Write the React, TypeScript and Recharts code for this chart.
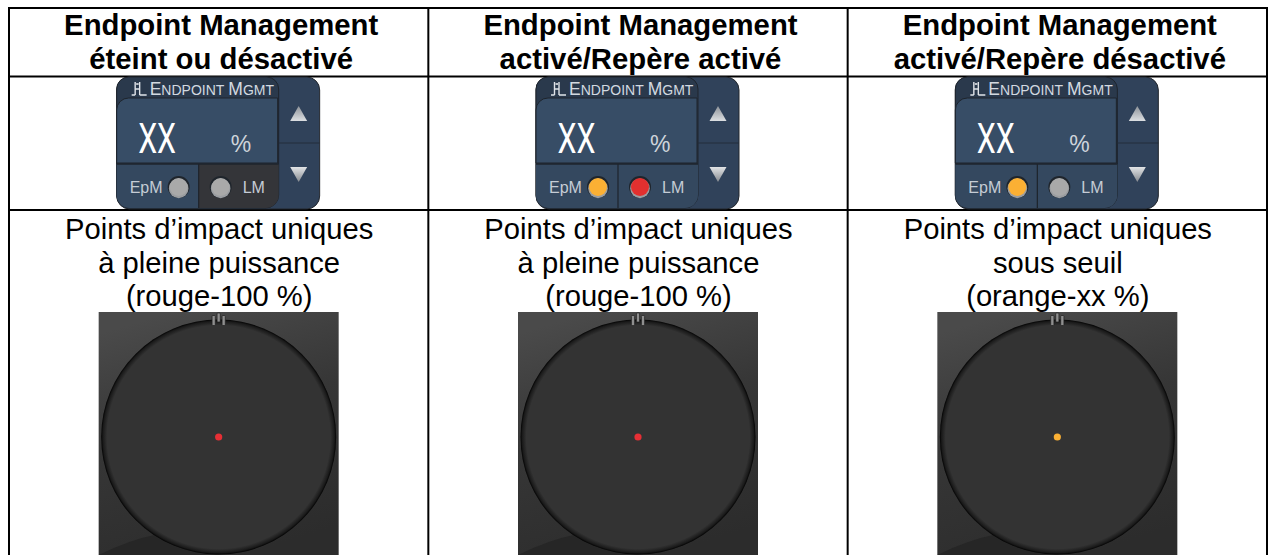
import React from "react";
import { ComposedChart, Scatter, XAxis, YAxis, ReferenceLine } from "recharts";

const headerTop = ["Endpoint Management", "Endpoint Management", "Endpoint Management"];
const headerBottom = ["éteint ou désactivé", "activé/Repère activé", "activé/Repère désactivé"];
const impactFirst = ["Points d’impact uniques", "Points d’impact uniques", "Points d’impact uniques"];
const impactSecond = ["à pleine puissance", "à pleine puissance", "sous seuil"];
const impactThird = ["(rouge-100 %)", "(rouge-100 %)", "(orange-xx %)"];
const epmLamp = ["#a9a9a9", "#fbb034", "#fbb034"];
const lmLamp = ["#a9a9a9", "#e2302f", "#a9a9a9"];
const lmPanel = ["#343539", "#34485f", "#34485f"];
const spotColor = ["#e62f35", "#e62f35", "#fbb034"];
const columns = [0, 1, 2];

const rows = columns.map((col) => ({
  col,
  top: headerTop[col],
  bottom: headerBottom[col],
  l1: impactFirst[col],
  l2: impactSecond[col],
  l3: impactThird[col],
  epm: epmLamp[col],
  lm: lmLamp[col],
  lmBg: lmPanel[col],
  spot: spotColor[col],
}));

const FONT = "'Liberation Sans', Arial, sans-serif";

const at = (y: number) => rows.map((r) => ({ ...r, y }));

const Label = (text: (r: any) => string, bold: boolean) => (p: any) => (
  <text
    x={p.cx + (bold ? 2.5 : 0.5)}
    y={p.cy}
    textAnchor="middle"
    fontFamily={FONT}
    fontSize={bold ? 29.3 : 29.2}
    fontWeight={bold ? 700 : 400}
    fill="#000"
  >
    {text(p.payload)}
  </text>
);

const Lamp = ({ x, y, fill }: any) => (
  <g>
    <circle cx={x} cy={y} r={11} fill="#1f252c" />
    <circle cx={x} cy={y + 1.4} r={9.8} fill="#9a9da1" />
    <circle cx={x} cy={y} r={9} fill={fill} />
  </g>
);

const Panel = (p: any) => {
  const { cx, cy, payload } = p;
  const L = cx - 102;
  const T = cy;
  return (
    <g>
      <rect x={L} y={T} width={203} height={132} rx={13} fill="#30425a" stroke="#23272d" strokeWidth={1} />
      <path
        d={`M${L} ${T + 12} a12 12 0 0 1 12 -12 H${L + 150} a12 12 0 0 1 12 12 V${T + 118} a13 13 0 0 1 -13 13 H${L + 13} a13 13 0 0 1 -13 -13 Z`}
        fill="#2a394c"
        stroke="#1e242c"
        strokeWidth={1}
      />
      <path
        d={`M${L} ${T + 33} a12 12 0 0 1 12 -12 H${L + 161} V${T + 86} H${L} Z`}
        fill="#374d66"
        stroke="#1e242c"
        strokeWidth={1}
      />
      <path
        d={`M${L} ${T + 87} H${L + 82} V${T + 131} H${L + 13} a13 13 0 0 1 -13 -13 Z`}
        fill="#34485f"
      />
      <path
        d={`M${L + 82} ${T + 87} H${L + 162} V${T + 118} a13 13 0 0 1 -13 13 H${L + 82} Z`}
        fill={payload.lmBg}
      />
      <line x1={L} x2={L + 162} y1={T + 87} y2={T + 87} stroke="#1e242c" strokeWidth={1.4} />
      <line x1={L + 82} x2={L + 82} y1={T + 87} y2={T + 131} stroke="#1e242c" strokeWidth={1.2} />
      <line x1={L + 162} x2={L + 203} y1={T + 66} y2={T + 66} stroke="#232d3a" strokeWidth={1.2} />
      <path d={`M${L + 182} ${T + 29} l8.5 15 h-17 Z`} fill="url(#triUp)" />
      <path d={`M${L + 182} ${T + 105} l8.5 -15 h-17 Z`} fill="url(#triDown)" />
      <g stroke="#dfe3e8" strokeWidth={1.4} fill="none">
        <path d={`M${L + 15} ${T + 18} h3.5 M${L + 18.5} ${T + 5} v13 M${L + 23} ${T + 5} v13 M${L + 18.5} ${T + 12} h4.5 M${L + 23} ${T + 18} h7`} />
        <path d={`M${L + 19.5} ${T + 7} h2.5`} stroke="#fff" />
      </g>
      <text x={L + 33} y={T + 18} fontFamily={FONT} fontSize={17.5} fill="#d3d9e0">
        E<tspan fontSize={14}>NDPOINT</tspan>
        <tspan dx={4}>M</tspan>
        <tspan fontSize={14}>GMT</tspan>
      </text>
      <text
        transform={`translate(${L + 21.5} ${T + 75.5}) scale(0.72 1)`}
        fontFamily="Roboto"
        fontWeight={400}
        fontSize={42}
        fill="#fff"
      >
        XX
      </text>
      <text x={L + 114} y={T + 75} fontFamily={FONT} fontSize={23} fill="#ced4db">
        %
      </text>
      <text x={L + 13} y={T + 116} fontFamily={FONT} fontSize={16} fill="#c5ccd5">
        EpM
      </text>
      <text x={L + 126} y={T + 116} fontFamily={FONT} fontSize={16} fill="#c5ccd5">
        LM
      </text>
      <Lamp x={L + 62} y={T + 110} fill={payload.epm} />
      <Lamp x={L + 104} y={T + 110} fill={payload.lm} />
    </g>
  );
};

const Scope = (p: any) => {
  const { cx, cy } = p;
  const R = 117.5;
  const top = cy - 125;
  const left = cx - 120;
  return (
    <g>
      <rect x={left} y={top} width={240} height={243} fill="url(#scopeBg)" />
      <path
        d={`M${left} ${top + 243} Q${left + 30} ${top + 228} ${left + 60} ${top + 222} L${cx} ${top + 243} Z`}
        fill="#262626"
      />
      <circle cx={cx} cy={cy} r={R} fill="url(#scopeFace)" />
      {[-5, 0, 5].map((dx) => (
        <rect
          key={dx}
          x={cx + dx - 1.6}
          y={dx === 0 ? top + 1 : top + 3.5}
          width={3.2}
          height={dx === 0 ? 9 : 10}
          fill="#8f8f8f"
          stroke="#1d1d1d"
          strokeWidth={0.7}
          rx={0.8}
        />
      ))}
      <circle cx={cx} cy={cy} r={3.6} fill={p.payload.spot} />
    </g>
  );
};

export default function App() {
  return (
    <div style={{ position: "absolute", left: 0, top: 0, width: 1269, height: 555, background: "#fff", overflow: "hidden" }}>
      <ComposedChart width={1269} height={555} margin={{ left: 9, right: 2, top: 0, bottom: 0 }} data={rows}>
        <defs>
          <linearGradient id="triUp" x1="0" y1="0" x2="0" y2="1">
            <stop offset="0" stopColor="#8d9298" />
            <stop offset="1" stopColor="#dcdfe2" />
          </linearGradient>
          <linearGradient id="triDown" x1="0" y1="0" x2="0" y2="1">
            <stop offset="0" stopColor="#e2e4e6" />
            <stop offset="1" stopColor="#84898f" />
          </linearGradient>
          <linearGradient id="scopeBg" x1="0.3" y1="0" x2="0.6" y2="1">
            <stop offset="0" stopColor="#4a4a4a" />
            <stop offset="0.45" stopColor="#363636" />
            <stop offset="1" stopColor="#2c2c2c" />
          </linearGradient>
          <radialGradient id="scopeFace">
            <stop offset="0" stopColor="#333333" />
            <stop offset="0.95" stopColor="#333333" />
            <stop offset="0.985" stopColor="#1a1a1a" />
            <stop offset="1" stopColor="#020202" />
          </radialGradient>
        </defs>
        <XAxis type="number" dataKey="col" domain={[-0.5, 2.5]} hide />
        <YAxis type="number" dataKey="y" domain={[0, 555]} reversed hide width={0} />
        {[-0.5, 0.5, 1.5, 2.5].map((x) => (
          <ReferenceLine
            key={x}
            segment={[
              { x, y: 7 },
              { x, y: 555 },
            ]}
            stroke="#000"
            strokeWidth={2}
            ifOverflow="visible"
          />
        ))}
        {[8, 76.5, 210].map((y) => (
          <ReferenceLine
            key={y}
            segment={[
              { x: -0.5, y },
              { x: 2.5, y },
            ]}
            stroke="#000"
            strokeWidth={2}
            ifOverflow="visible"
          />
        ))}
        <Scatter data={at(34.5)} dataKey="y" shape={Label((r) => r.top, true)} isAnimationActive={false} />
        <Scatter data={at(68.5)} dataKey="y" shape={Label((r) => r.bottom, true)} isAnimationActive={false} />
        <Scatter data={at(239)} dataKey="y" shape={Label((r) => r.l1, false)} isAnimationActive={false} />
        <Scatter data={at(272.5)} dataKey="y" shape={Label((r) => r.l2, false)} isAnimationActive={false} />
        <Scatter data={at(306)} dataKey="y" shape={Label((r) => r.l3, false)} isAnimationActive={false} />
        <Scatter data={at(77)} dataKey="y" shape={Panel} isAnimationActive={false} />
        <Scatter data={at(437)} dataKey="y" shape={Scope} isAnimationActive={false} />
      </ComposedChart>
    </div>
  );
}
